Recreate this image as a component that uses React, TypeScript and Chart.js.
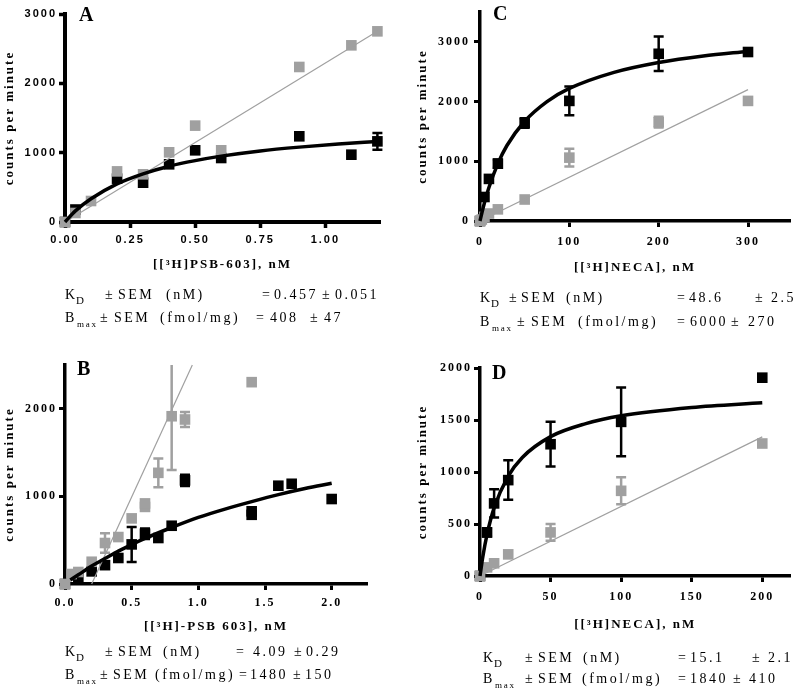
import React, { useEffect, useRef } from 'react';
import { Chart, registerables } from 'chart.js';
Chart.register(...registerables);

// ---------------- DATA ----------------
// Panel A
const aXTicks = [0, 0.25, 0.5, 0.75, 1.0];
const aXTickLabels = ['0.00', '0.25', '0.50', '0.75', '1.00'];
const aYTicks = [0, 1000, 2000, 3000];
const aBlackX = [0, 0.04, 0.2, 0.3, 0.4, 0.5, 0.6, 0.9, 1.1, 1.2];
const aBlackY = [0, 180, 625, 567, 832, 1034, 923, 1236, 971, 1163];
const aBlackErr = [0, 0, 0, 0, 0, 0, 0, 0, 0, 120];
const aGrayX = [0, 0.04, 0.1, 0.2, 0.3, 0.4, 0.5, 0.6, 0.9, 1.1, 1.2];
const aGrayY = [0, 130, 303, 730, 688, 1005, 1390, 1034, 2236, 2548, 2750];
const aGrayErr = [0, 0, 0, 0, 0, 0, 0, 0, 0, 0, 0];
const aCurveX = [0, 0.04, 0.1, 0.2, 0.3, 0.4, 0.5, 0.6, 0.75, 0.9, 1.05, 1.2];
const aCurveY = [0, 160, 335, 550, 695, 805, 885, 950, 1025, 1080, 1125, 1160];
const aLineX = [0, 1.2];
const aLineY = [0, 2750];

// Panel B
const bXTicks = [0, 0.5, 1.0, 1.5, 2.0];
const bXTickLabels = ['0.0', '0.5', '1.0', '1.5', '2.0'];
const bYTicks = [0, 1000, 2000];
const bBlackX = [0, 0.1, 0.2, 0.3, 0.4, 0.5, 0.6, 0.7, 0.8, 0.9, 1.4, 1.4, 1.6, 1.7, 2.0];
const bBlackY = [0, 76, 144, 215, 297, 452, 574, 525, 665, 1183, 790, 830, 1122, 1144, 970];
const bBlackErr = [0, 0, 0, 0, 0, 200, 60, 0, 0, 65, 0, 0, 0, 0, 0];
const bGrayX = [0, 0.05, 0.1, 0.2, 0.3, 0.4, 0.5, 0.6, 0.6, 0.7, 0.8, 0.9, 1.4];
const bGrayY = [0, 114, 137, 254, 468, 536, 749, 880, 920, 1269, 1915, 1878, 2304];
const bGrayErr = [0, 0, 0, 0, 110, 0, 0, 0, 0, 165, 615, 85, 0];
const bCurveX = [0.04, 0.1, 0.2, 0.3, 0.4, 0.5, 0.6, 0.8, 1.0, 1.2, 1.4, 1.6, 1.8, 2.0];
const bCurveY = [45, 105, 205, 290, 375, 450, 520, 645, 760, 855, 940, 1020, 1090, 1150];
const bLineX = [0.2, 0.955];
const bLineY = [0, 2500];

// Panel C
const cXTicks = [0, 100, 200, 300];
const cXTickLabels = ['0', '100', '200', '300'];
const cYTicks = [0, 1000, 2000, 3000];
const cBlackX = [0, 5, 10, 20, 50, 100, 200, 300];
const cBlackY = [0, 402, 705, 960, 1642, 2011, 2800, 2830];
const cBlackErr = [0, 0, 0, 70, 80, 240, 290, 0];
const cGrayX = [0, 2, 5, 10, 20, 50, 100, 200, 300];
const cGrayY = [0, 25, 70, 125, 195, 360, 1061, 1654, 2011];
const cGrayErr = [0, 0, 0, 0, 0, 0, 150, 90, 0];
const cCurveX = [0, 2, 5, 10, 20, 30, 50, 75, 100, 150, 200, 250, 300];
const cCurveY = [0, 130, 305, 560, 960, 1260, 1670, 2000, 2220, 2490, 2655, 2765, 2840];
const cLineX = [0, 300];
const cLineY = [0, 2200];

// Panel D
const dXTicks = [0, 50, 100, 150, 200];
const dXTickLabels = ['0', '50', '100', '150', '200'];
const dYTicks = [0, 500, 1000, 1500, 2000];
const dBlackX = [0, 5, 10, 20, 50, 100, 200];
const dBlackY = [0, 419, 698, 922, 1267, 1482, 1907];
const dBlackErr = [0, 40, 135, 190, 215, 330, 0];
const dGrayX = [0, 5, 10, 20, 50, 100, 200];
const dGrayY = [0, 83, 122, 208, 419, 819, 1274];
const dGrayErr = [0, 0, 0, 0, 80, 130, 0];
const dCurveX = [0, 2, 5, 10, 20, 30, 50, 75, 100, 150, 200];
const dCurveY = [0, 185, 400, 655, 960, 1140, 1340, 1465, 1540, 1620, 1665];
const dLineX = [0, 200];
const dLineY = [0, 1338];

// ---------------- STYLE ----------------
const GRAY = '#a0a0a0';
const SERIF = '"Liberation Serif", "Times New Roman", serif';
const SANS = '"Liberation Sans", Arial, sans-serif';

const pts = (xs: number[], ys: number[]) => xs.map((x, i) => ({ x, y: ys[i] }));

const errorBarPlugin = {
  id: 'errorBars',
  afterDatasetDraw(chart: any, args: any) {
    const ds = chart.data.datasets[args.index];
    if (!ds.errors) return;
    const ctx = chart.ctx;
    const ys = chart.scales.y;
    const area = chart.chartArea;
    ctx.save();
    ctx.beginPath();
    ctx.rect(area.left - 20, area.top, area.right - area.left + 40, area.bottom - area.top + 20);
    ctx.clip();
    ctx.strokeStyle = ds.errColor;
    ctx.lineWidth = ds.errWidth;
    const cap = 5;
    args.meta.data.forEach((pt: any, i: number) => {
      const e = ds.errors[i];
      if (!e) return;
      const v = ds.data[i].y;
      const px = pt.x;
      const y1 = ys.getPixelForValue(v - e);
      const y2 = ys.getPixelForValue(v + e);
      ctx.beginPath();
      ctx.moveTo(px, y1);
      ctx.lineTo(px, y2);
      ctx.moveTo(px - cap, y1);
      ctx.lineTo(px + cap, y1);
      ctx.moveTo(px - cap, y2);
      ctx.lineTo(px + cap, y2);
      ctx.stroke();
    });
    ctx.restore();
  },
};

const spacingPlugin = {
  id: 'spacing',
  beforeDraw(chart: any) {
    chart.ctx.letterSpacing = '2px';
  },
};

type PanelCfg = {
  left: number; top: number; width: number; height: number;
  area: { l: number; r: number; t: number; b: number };
  xMax: number; yMax: number;
  xTicks: number[]; xLabels: string[]; yTicks: number[];
  tickFamily: string; tickSize: number; axisWidth: number;
  xPad: number; yPad: number; yTitlePad: number;
  xTitle: string;
  black: [number[], number[], number[]];
  gray: [number[], number[], number[]];
  curve: [number[], number[]];
  line: [number[], number[]];
};

function Panel({ cfg }: { cfg: PanelCfg }) {
  const ref = useRef<HTMLCanvasElement>(null);
  useEffect(() => {
    const c = cfg;
    const yW = c.area.l - c.left;
    const xH = c.top + c.height - c.area.b;
    const tickFont = { family: c.tickFamily, size: c.tickSize, weight: 'bold' as const };
    const grid = {
      drawOnChartArea: false, drawTicks: true, tickLength: 6, tickWidth: c.axisWidth - 0.5, tickColor: '#000',
    };
    const border = { display: true, width: c.axisWidth, color: '#000' };
    const chart = new Chart(ref.current!, {
      type: 'scatter',
      data: {
        datasets: [
          {
            data: pts(c.curve[0], c.curve[1]), showLine: true, borderColor: '#000', borderWidth: 3.5,
            pointRadius: 0, cubicInterpolationMode: 'monotone', order: 0, clip: false,
          } as any,
          {
            data: pts(c.line[0], c.line[1]), showLine: true, borderColor: GRAY, borderWidth: 1.2,
            pointRadius: 0, order: 1, clip: false,
          } as any,
          {
            data: pts(c.gray[0], c.gray[1]), showLine: false, pointStyle: 'rect', pointRadius: 7.5,
            backgroundColor: GRAY, pointBorderWidth: 0, borderWidth: 0, order: 2, clip: false,
            errors: c.gray[2], errColor: GRAY, errWidth: 2.5,
          } as any,
          {
            data: pts(c.black[0], c.black[1]), showLine: false, pointStyle: 'rect', pointRadius: 7.5,
            backgroundColor: '#000', pointBorderWidth: 0, borderWidth: 0, order: 3, clip: false,
            errors: c.black[2], errColor: '#000', errWidth: 2.5,
          } as any,
        ],
      },
      options: {
        animation: false,
        responsive: false,
        devicePixelRatio: 1,
        layout: { padding: { left: 0, top: c.area.t - c.top, right: c.left + c.width - c.area.r, bottom: 0 } },
        plugins: { legend: { display: false }, tooltip: { enabled: false } },
        scales: {
          x: {
            type: 'linear', min: 0, max: c.xMax,
            afterBuildTicks: (s: any) => { s.ticks = c.xTicks.map((v) => ({ value: v })); },
            afterFit: (s: any) => { s.height = xH; },
            ticks: {
              callback: (v: any) => c.xLabels[c.xTicks.indexOf(Number(v))] ?? '',
              font: tickFont, color: '#000', padding: c.xPad, maxRotation: 0, autoSkip: false,
            },
            grid, border,
            title: {
              display: true, text: c.xTitle, color: '#000',
              font: { family: SERIF, size: 13, weight: 'bold' }, padding: { top: 0, bottom: 3 },
            },
          },
          y: {
            type: 'linear', min: 0, max: c.yMax,
            afterBuildTicks: (s: any) => { s.ticks = c.yTicks.map((v) => ({ value: v })); },
            afterFit: (s: any) => { s.width = yW; },
            ticks: { callback: (v: any) => String(v), font: tickFont, color: '#000', padding: c.yPad },
            grid, border,
            title: {
              display: true, text: 'counts per minute', color: '#000',
              font: { family: SERIF, size: 13, weight: 'bold' }, padding: { top: c.yTitlePad, bottom: 0 },
            },
          },
        },
      } as any,
      plugins: [errorBarPlugin, spacingPlugin],
    });
    return () => chart.destroy();
  }, [cfg]);
  return (
    <canvas
      ref={ref}
      width={cfg.width}
      height={cfg.height}
      style={{ position: 'absolute', left: cfg.left, top: cfg.top, width: cfg.width, height: cfg.height }}
    />
  );
}

const panelA: PanelCfg = {
  left: 0, top: 0, width: 395, height: 275,
  area: { l: 65, r: 380, t: 14, b: 222 }, xMax: 1.21, yMax: 3000,
  xTicks: aXTicks, xLabels: aXTickLabels, yTicks: aYTicks,
  tickFamily: SANS, tickSize: 11, axisWidth: 4, xPad: 5, yPad: 2, yTitlePad: 2,
  xTitle: '[[³H]PSB-603], nM',
  black: [aBlackX, aBlackY, aBlackErr], gray: [aGrayX, aGrayY, aGrayErr],
  curve: [aCurveX, aCurveY], line: [aLineX, aLineY],
};
const panelB: PanelCfg = {
  left: 0, top: 330, width: 395, height: 307,
  area: { l: 65, r: 367, t: 365, b: 584 }, xMax: 2.265, yMax: 2500,
  xTicks: bXTicks, xLabels: bXTickLabels, yTicks: bYTicks,
  tickFamily: SERIF, tickSize: 12, axisWidth: 3.5, xPad: 6, yPad: 2, yTitlePad: 2,
  xTitle: '[[³H]-PSB 603], nM',
  black: [bBlackX, bBlackY, bBlackErr], gray: [bGrayX, bGrayY, bGrayErr],
  curve: [bCurveX, bCurveY], line: [bLineX, bLineY],
};
const panelC: PanelCfg = {
  left: 400, top: 0, width: 398, height: 278,
  area: { l: 480, r: 790, t: 12, b: 221 }, xMax: 347, yMax: 3500,
  xTicks: cXTicks, xLabels: cXTickLabels, yTicks: cYTicks,
  tickFamily: SERIF, tickSize: 12, axisWidth: 3.5, xPad: 8, yPad: 4, yTitlePad: 15,
  xTitle: '[[³H]NECA], nM',
  black: [cBlackX, cBlackY, cBlackErr], gray: [cGrayX, cGrayY, cGrayErr],
  curve: [cCurveX, cCurveY], line: [cLineX, cLineY],
};
const panelD: PanelCfg = {
  left: 400, top: 340, width: 398, height: 295,
  area: { l: 480, r: 793, t: 368, b: 576 }, xMax: 220, yMax: 2000,
  xTicks: dXTicks, xLabels: dXTickLabels, yTicks: dYTicks,
  tickFamily: SERIF, tickSize: 12, axisWidth: 3.5, xPad: 8, yPad: 2, yTitlePad: 15,
  xTitle: '[[³H]NECA], nM',
  black: [dBlackX, dBlackY, dBlackErr], gray: [dGrayX, dGrayY, dGrayErr],
  curve: [dCurveX, dCurveY], line: [dLineX, dLineY],
};

// text: x position, baseline y
function T({ x, y, s, size = 14, ls = 2.5, bold = false }: { x: number; y: number; s: string; size?: number; ls?: number; bold?: boolean }) {
  return (
    <div
      style={{
        position: 'absolute', left: x, top: y - size * 0.8375, fontFamily: SERIF, fontSize: size,
        lineHeight: `${size}px`, letterSpacing: ls, whiteSpace: 'nowrap', color: '#000',
        fontWeight: bold ? 'bold' : 'normal',
      }}
    >
      {s}
    </div>
  );
}

type Seg = [string, number];
function StatLine({ y, main, sub, segs }: { y: number; main: [string, number]; sub: string; segs: Seg[] }) {
  const isD = sub === 'D';
  return (
    <>
      <T x={main[1]} y={y} s={main[0]} />
      <T x={main[1] + (isD ? 11 : 12)} y={y + (isD ? 4 : 5)} s={sub} size={isD ? 11 : 9} ls={isD ? 0 : 1.8} />
      {segs.map(([s, x], i) => <T key={i} x={x} y={y} s={s} />)}
    </>
  );
}

export default function App() {
  return (
    <div style={{ position: 'absolute', left: 0, top: 0, width: 798, height: 691, background: '#fff', overflow: 'hidden' }}>
      <Panel cfg={panelA} />
      <Panel cfg={panelB} />
      <Panel cfg={panelC} />
      <Panel cfg={panelD} />

      <T x={79} y={21} s="A" size={20} ls={0} bold />
      <T x={77} y={375} s="B" size={20} ls={0} bold />
      <T x={493} y={20} s="C" size={20} ls={0} bold />
      <T x={492} y={379} s="D" size={20} ls={0} bold />

      <StatLine y={300} main={['K', 65]} sub="D"
        segs={[['±', 105], ['SEM', 118], ['(nM)', 166], ['=', 262], ['0.457', 274], ['±', 322], ['0.051', 335]]} />
      <StatLine y={323} main={['B', 65]} sub="max"
        segs={[['±', 100], ['SEM', 114], ['(fmol/mg)', 160], ['=', 256], ['408', 270], ['±', 310], ['47', 324]]} />

      <StatLine y={657} main={['K', 65]} sub="D"
        segs={[['±', 105], ['SEM', 118], ['(nM)', 163], ['=', 236], ['4.09', 253], ['±', 294], ['0.29', 306]]} />
      <StatLine y={680} main={['B', 65]} sub="max"
        segs={[['±', 100], ['SEM', 113], ['(fmol/mg)', 155], ['=', 239], ['1480', 250], ['±', 293], ['150', 305]]} />

      <StatLine y={303} main={['K', 480]} sub="D"
        segs={[['±', 509], ['SEM', 521], ['(nM)', 566], ['=', 677], ['48.6', 689], ['±', 755], ['2.5', 771]]} />
      <StatLine y={327} main={['B', 480]} sub="max"
        segs={[['±', 517], ['SEM', 531], ['(fmol/mg)', 578], ['=', 677], ['6000', 690], ['±', 731], ['270', 748]]} />

      <StatLine y={663} main={['K', 483]} sub="D"
        segs={[['±', 525], ['SEM', 538], ['(nM)', 583], ['=', 678], ['15.1', 690], ['±', 752], ['2.1', 768]]} />
      <StatLine y={684} main={['B', 483]} sub="max"
        segs={[['±', 525], ['SEM', 538], ['(fmol/mg)', 582], ['=', 678], ['1840', 690], ['±', 733], ['410', 749]]} />
    </div>
  );
}
